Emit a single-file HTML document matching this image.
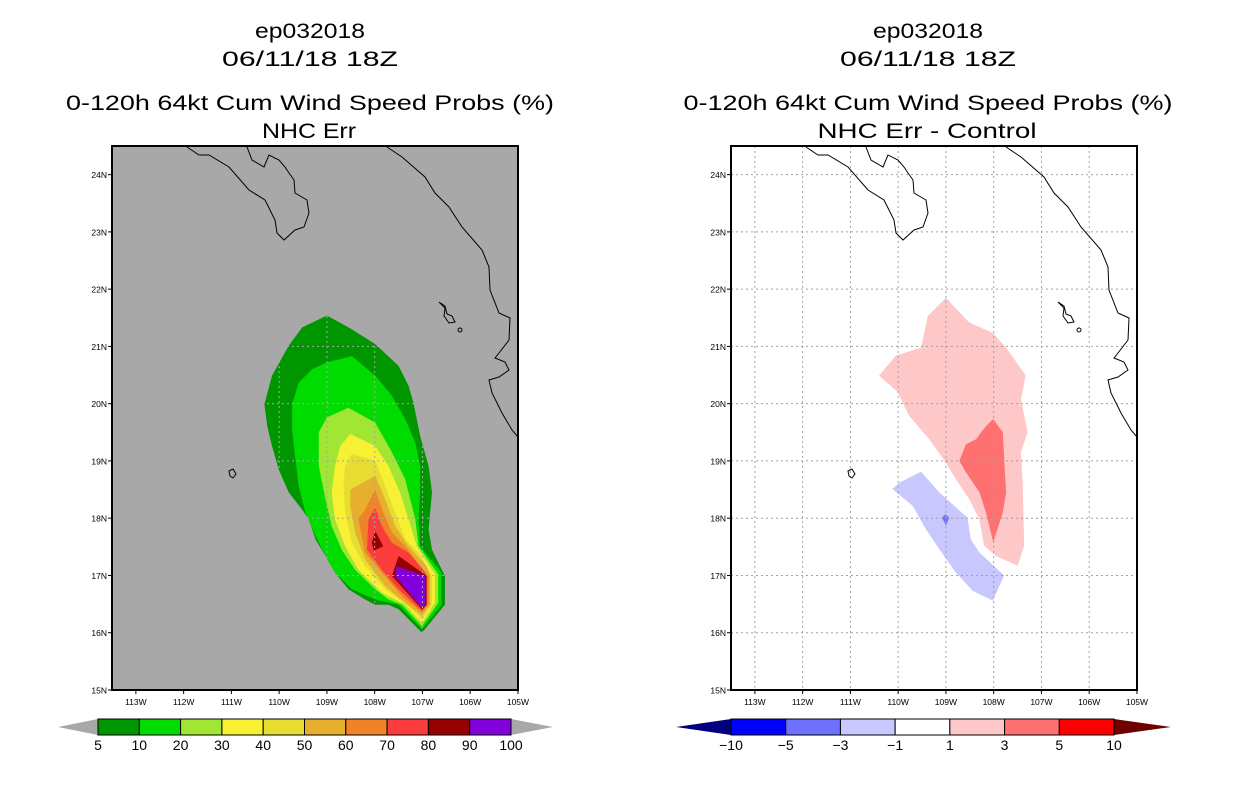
<!DOCTYPE html>
<html><head><meta charset="utf-8">
<style>
html,body{margin:0;padding:0;background:#fff;}
svg{display:block;font-family:"Liberation Sans",sans-serif;}
</style></head>
<body>
<svg id="fig" width="1236" height="800" viewBox="0 0 1236 800" xmlns="http://www.w3.org/2000/svg">
<g font-size="21" text-anchor="middle" fill="#000" lengthAdjust="spacingAndGlyphs">
<text x="310" y="38" textLength="110" lengthAdjust="spacingAndGlyphs">ep032018</text>
<text x="310" y="66" textLength="176" lengthAdjust="spacingAndGlyphs">06/11/18 18Z</text>
<text x="310" y="110" textLength="488" lengthAdjust="spacingAndGlyphs">0-120h 64kt Cum Wind Speed Probs (%)</text>
<text x="309" y="138" textLength="94" lengthAdjust="spacingAndGlyphs">NHC Err</text>
<text x="928" y="38" textLength="110" lengthAdjust="spacingAndGlyphs">ep032018</text>
<text x="928" y="66" textLength="176" lengthAdjust="spacingAndGlyphs">06/11/18 18Z</text>
<text x="928" y="110" textLength="489" lengthAdjust="spacingAndGlyphs">0-120h 64kt Cum Wind Speed Probs (%)</text>
<text x="927" y="138" textLength="219" lengthAdjust="spacingAndGlyphs">NHC Err - Control</text>
</g>
<g id="left"></g>
<g id="right"></g>
<g id="cbars"></g>
</svg>
<script>
// ---- data (lon in degrees West, lat in degrees North) ----
const lonTicks = [113,112,111,110,109,108,107,106,105];
const latTicks = [24,23,22,21,20,19,18,17,16,15];
const probLevels = [5,10,20,30,40,50,60,70,80,90,100];
const probColors = ["#009600","#00dc00","#a0e632","#f8f032","#e6dc32","#e6af2d","#f08228","#fa3c3c","#960000","#8200dc"];
const diffLevels = [-10,-5,-3,-1,1,3,5,10];
const diffColors = ["#0000ff","#7070ff","#c8c8ff","#ffffff","#ffc8c8","#ff7070","#ff0000"];
const prob5 = [[109.0,21.54],[109.52,21.33],[109.8,21.01],[110.15,20.49],[110.31,19.99],[110.25,19.61],[110.15,19.26],[110.01,18.85],[109.8,18.45],[109.52,18.15],[109.38,17.98],[109.24,17.63],[109.03,17.34],[108.83,17.05],[108.55,16.76],[108.2,16.58],[107.99,16.49],[107.71,16.49],[107.5,16.41],[107.01,16.0],[106.53,16.49],[106.53,16.99],[106.8,17.45],[106.87,17.8],[106.8,18.45],[106.87,18.91],[107.05,19.44],[107.19,20.02],[107.29,20.31],[107.5,20.66],[107.99,21.04],[108.48,21.3]];
const prob10 = [[109.0,20.72],[108.48,20.83],[107.99,20.49],[107.64,20.14],[107.36,19.73],[107.15,19.32],[107.05,18.91],[107.05,18.45],[107.08,17.98],[107.05,17.51],[106.6,17.05],[106.6,16.49],[107.01,16.06],[107.5,16.49],[107.99,16.58],[108.48,16.76],[108.83,17.05],[109.03,17.34],[109.24,17.69],[109.45,18.1],[109.59,18.56],[109.66,19.03],[109.73,19.55],[109.73,19.99],[109.59,20.37],[109.31,20.6]];
const prob20 = [[109.0,19.76],[108.55,19.93],[107.99,19.67],[107.64,19.15],[107.36,18.68],[107.15,17.98],[107.08,17.51],[106.67,17.02],[106.67,16.52],[107.01,16.11],[107.43,16.49],[107.71,16.58],[107.99,16.76],[108.41,17.1],[108.69,17.45],[108.9,17.86],[109.03,18.33],[109.17,18.91],[109.17,19.5]];
const prob30 = [[108.51,19.47],[107.99,19.26],[107.71,18.91],[107.47,18.45],[107.29,17.98],[107.12,17.51],[106.74,17.02],[106.74,16.52],[107.01,16.17],[107.36,16.49],[107.85,16.7],[108.34,17.1],[108.62,17.51],[108.83,17.98],[108.9,18.45],[108.83,18.91],[108.72,19.26]];
const prob40 = [[108.48,19.12],[107.99,19.0],[107.78,18.56],[107.57,18.1],[107.36,17.63],[107.08,17.4],[106.8,16.99],[106.8,16.49],[107.01,16.23],[107.29,16.46],[107.78,16.76],[108.2,17.16],[108.48,17.57],[108.62,18.1],[108.65,18.56],[108.62,18.91]];
const prob50 = [[107.99,18.74],[107.78,18.33],[107.57,17.86],[107.29,17.51],[106.91,17.16],[106.84,16.99],[106.84,16.49],[107.01,16.29],[107.36,16.52],[107.78,16.81],[108.2,17.28],[108.41,17.75],[108.51,18.21],[108.51,18.5]];
const prob60 = [[107.99,18.5],[107.82,18.1],[107.64,17.75],[107.36,17.51],[106.98,17.1],[106.87,16.99],[106.87,16.49],[107.01,16.35],[107.43,16.64],[107.85,17.05],[108.2,17.4],[108.34,17.98],[108.2,18.15]];
const prob70 = [[107.99,18.18],[107.85,17.86],[107.64,17.57],[107.29,17.4],[106.94,17.05],[106.91,16.49],[107.01,16.38],[107.5,16.76],[107.85,17.1],[108.16,17.45],[108.13,17.98]];
const prob80a = [[107.99,17.78],[107.82,17.51],[108.02,17.43],[108.06,17.57]];
const prob80b = [[107.5,17.34],[107.01,17.05],[106.91,16.99],[106.91,16.49],[107.01,16.41],[107.64,16.99]];
const prob90 = [[107.54,17.16],[106.94,16.99],[106.94,16.49],[107.01,16.43],[107.57,16.99]];
const diffPos1 = [[109.0,21.85],[108.55,21.45],[108.44,21.39],[108.02,21.24],[107.71,20.95],[107.33,20.49],[107.43,20.08],[107.29,19.5],[107.43,19.15],[107.39,18.57],[107.36,17.52],[107.5,17.17],[107.95,17.34],[108.2,17.52],[108.3,17.98],[108.51,18.33],[108.79,18.68],[109.0,18.97],[109.35,19.38],[109.77,19.79],[110.01,20.2],[110.4,20.49],[110.05,20.84],[109.52,20.98],[109.38,21.53]];
const diffPos3 = [[108.01,19.73],[107.81,19.5],[107.78,19.03],[107.74,18.45],[107.81,18.1],[108.01,17.58],[108.16,18.1],[108.3,18.45],[108.58,18.8],[108.72,19.0],[108.58,19.29],[108.37,19.38],[108.16,19.61]];
const diffNeg1 = [[109.52,18.81],[109.14,18.45],[108.55,18.01],[108.48,17.63],[108.3,17.4],[107.78,17.0],[108.02,16.56],[108.44,16.73],[108.79,17.05],[109.14,17.46],[109.42,17.81],[109.7,18.22],[110.12,18.51],[109.98,18.62]];
const diffNeg3 = [[109.01,18.07],[108.93,18.01],[109.0,17.87],[109.08,18.01]];

const leftLayers = [[prob5,0,"prob-5"],[prob10,1,"prob-10"],[prob20,2,"prob-20"],[prob30,3,"prob-30"],[prob40,4,"prob-40"],[prob50,5,"prob-50"],[prob60,6,"prob-60"],[prob70,7,"prob-70"],[prob80a,8,"prob-80a"],[prob80b,8,"prob-80b"],[prob90,9,"prob-90"]];
const rightLayers = [[diffPos1,4,"diff-plus-1"],[diffPos3,5,"diff-plus-3"],[diffNeg1,2,"diff-minus-1"],[diffNeg3,1,"diff-minus-3"]];

// ---- geometry ----
const NS="http://www.w3.org/2000/svg";
const FY=146, FW=406, FH=544, LONW0=113.5, LAT1=24.5, DX=47.76, DY=57.26;
function mk(tag, attrs, parent){const e=document.createElementNS(NS,tag);for(const k in attrs)e.setAttribute(k,attrs[k]);parent.appendChild(e);return e;}
function xs(ox,lonW){return ox+(LONW0-lonW)*DX;}
function ys(lat){return FY+(LAT1-lat)*DY;}

const baja=[[75,1],[87,9],[97,9],[117,21],[137,44],[153,54],[163,74],[165,87],[172,94],[183,84],[192,81],[197,67],[195,54],[183,47],[182,34],[177,27],[173,21],[167,14],[157,9],[152,21],[140,14],[135,1]];
const mainland=[[275,1],[290,11],[313,31],[323,47],[337,61],[350,81],[370,104],[377,121],[378,144],[387,167],[398,172],[397,194],[387,207],[383,212],[393,216],[397,224],[387,231],[377,234],[380,247],[390,267],[400,284],[406,291]];
const marias=[[327,156],[333,162],[332,170],[337,177],[343,176],[340,170],[335,168],[333,160]];

function panel(id, ox, bg, layers, colors, gridColor){
  const g=document.getElementById(id);
  const clipId="clip"+id;
  const cp=mk("clipPath",{id:clipId},g);
  mk("rect",{x:ox,y:FY,width:FW,height:FH},cp);
  const bgr=mk("rect",{x:ox,y:FY,width:FW,height:FH,fill:bg},g);
  
  
  const inner=mk("g",{"clip-path":"url(#"+clipId+")"},g);
  layers.forEach(L=>{
    const pts=L[0].map(p=>xs(ox,p[0]).toFixed(1)+","+ys(p[1]).toFixed(1)).join(" ");
    const p=mk("polygon",{points:pts,fill:colors[L[1]]},inner);
    
    
  });
  const grid=mk("g",{stroke:gridColor,"stroke-width":1,"stroke-dasharray":"2,3"},inner);
  
  
  lonTicks.forEach(l=>{const x=xs(ox,l);mk("line",{x1:x,y1:FY,x2:x,y2:FY+FH},grid);});
  latTicks.forEach(l=>{const y=ys(l);mk("line",{x1:ox,y1:y,x2:ox+FW,y2:y},grid);});
  const cg=mk("g",{fill:"none",stroke:"#000","stroke-width":1},inner);
  
  
  [baja,mainland].forEach(c=>mk("polyline",{points:c.map(p=>(ox+p[0])+","+(FY+p[1])).join(" ")},cg));
  mk("polygon",{points:marias.map(p=>(ox+p[0])+","+(FY+p[1])).join(" ")},cg);
  mk("circle",{cx:ox+348,cy:FY+184,r:2},cg);
  mk("polygon",{points:[[117,325],[121,323],[124,328],[121,332],[118,330]].map(p=>(ox+p[0])+","+(FY+p[1])).join(" ")},cg);
  const fr=mk("rect",{x:ox,y:FY,width:FW,height:FH,fill:"none",stroke:"#000","stroke-width":2},g);
  
  
  const tg=mk("g",{"font-size":"8.5",fill:"#000"},g);
  latTicks.forEach(l=>{const y=ys(l);
    mk("line",{x1:ox-4,y1:y,x2:ox,y2:y,stroke:"#000"},tg);
    const t=mk("text",{x:ox-5,y:y+3.5,"text-anchor":"end"},tg);t.textContent=l+"N";
    
    
  });
  lonTicks.forEach(l=>{const x=xs(ox,l);
    mk("line",{x1:x,y1:FY+FH,x2:x,y2:FY+FH+4,stroke:"#000"},tg);
    const t=mk("text",{x:x,y:FY+FH+15,"text-anchor":"middle"},tg);t.textContent=l+"W";
    
    
  });
}
panel("left",112,"#a8a8a8",leftLayers,probColors,"#a8a8a8");
panel("right",731,"#ffffff",rightLayers,diffColors,"#a0a0a0");

function cbar(x0,x1,tl,tr,levels,colors,lc,rc,name){
  const g=mk("g",{},document.getElementById("cbars"));
  
  
  const y0=719,y1=735,ym=727;
  const lt=mk("polygon",{points:`${tl},${ym} ${x0},${y0} ${x0},${y1}`,fill:lc},g);
  
  
  const rt=mk("polygon",{points:`${tr},${ym} ${x1},${y0} ${x1},${y1}`,fill:rc},g);
  
  
  const n=colors.length, w=(x1-x0)/n;
  colors.forEach((c,i)=>{
    const r=mk("rect",{x:x0+i*w,y:y0,width:w,height:y1-y0,fill:c,stroke:"#000","stroke-width":1},g);
    
    
  });
  levels.forEach((v,i)=>{
    const t=mk("text",{x:x0+i*w,y:750,"text-anchor":"middle","font-size":"14",fill:"#000"},g);
    t.textContent=String(v).replace("-","\u2212");
    
    
  });
}
cbar(98,511,58,553,probLevels,probColors,"#a8a8a8","#a8a8a8","prob-colorbar");
cbar(731,1114,676,1171,diffLevels,diffColors,"#000080","#6f0000","diff-colorbar");
</script>
</body></html>
